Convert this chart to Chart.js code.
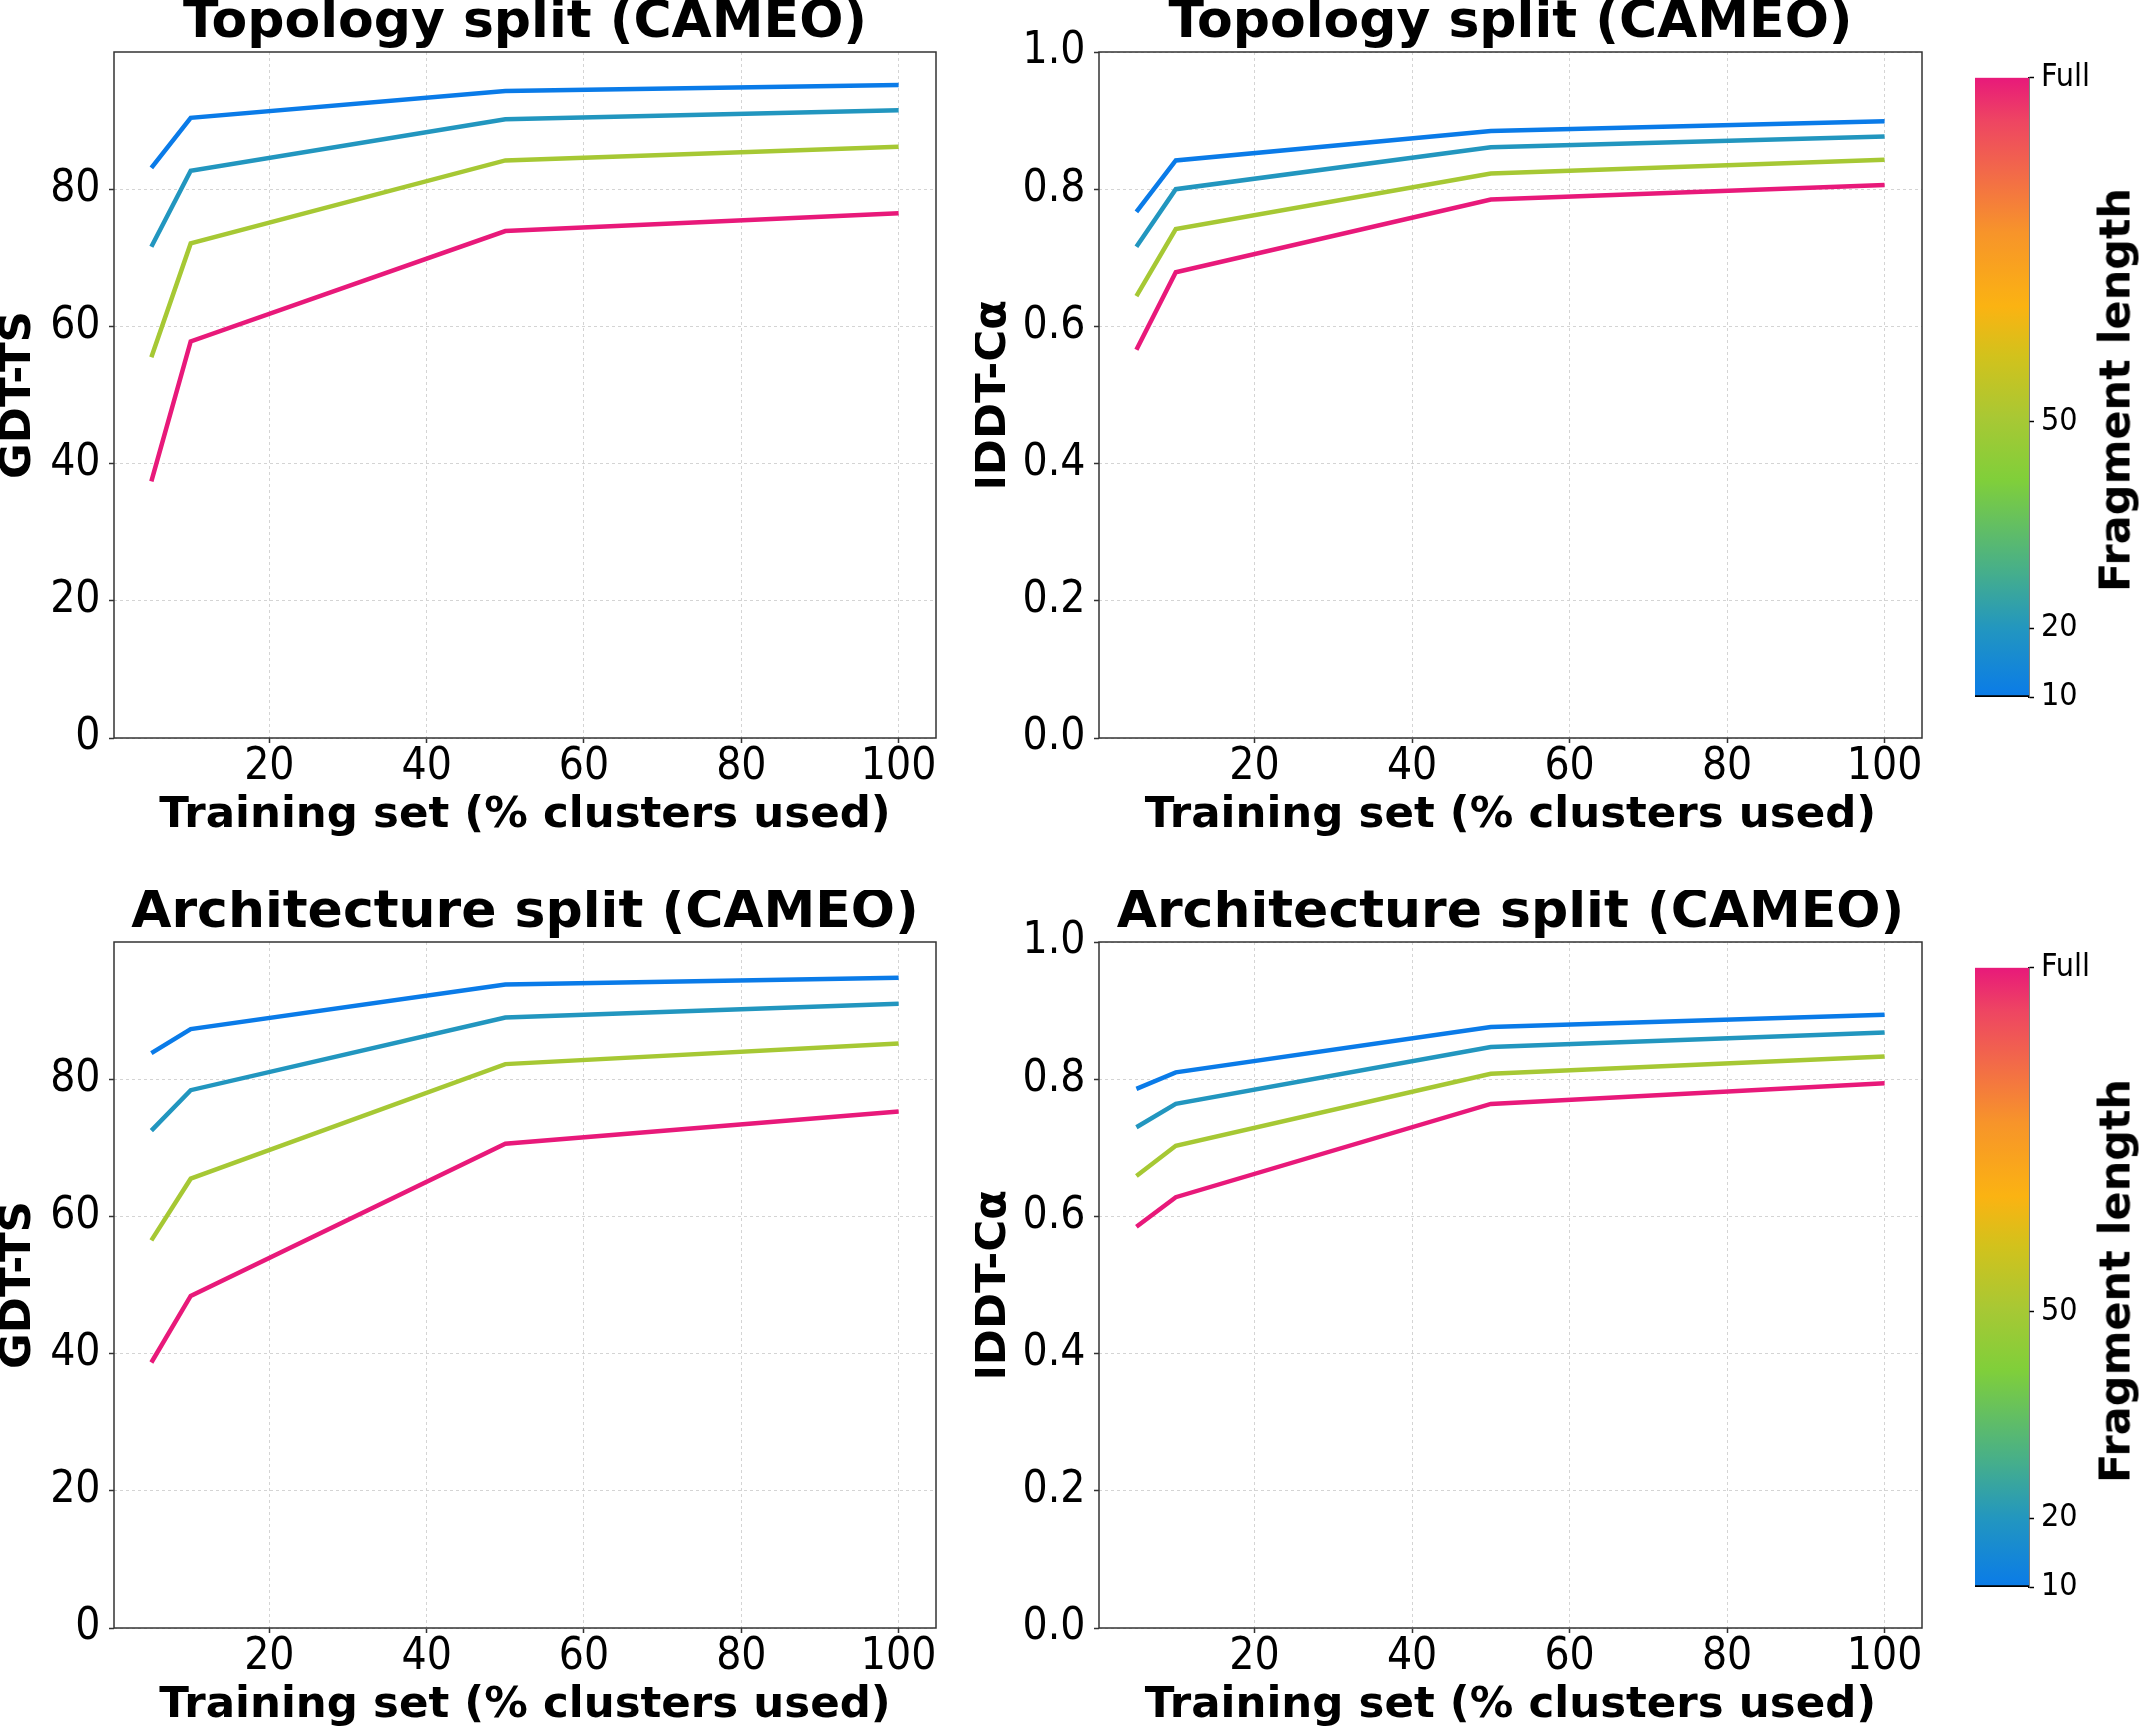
<!DOCTYPE html>
<html><head><meta charset="utf-8">
<script src="https://cdn.jsdelivr.net/npm/chart.js@4.4.1/dist/chart.umd.min.js"></script>
<style>
html,body{margin:0;padding:0;background:#fff;overflow:hidden;width:2143px;height:1730px;}
canvas{position:absolute;}
.cblabel{position:absolute;font-family:"DejaVu Sans",sans-serif;font-weight:bold;font-size:43px;color:#000;white-space:nowrap;line-height:1;transform:translate(-50%,-50%) rotate(-90deg);}
</style></head><body>
<canvas id="c1" width="980" height="840" style="left:0px;top:0px;width:980px;height:840px"></canvas>
<canvas id="c2" width="991" height="840" style="left:975px;top:0px;width:991px;height:840px"></canvas>
<canvas id="c3" width="980" height="840" style="left:0px;top:890px;width:980px;height:840px"></canvas>
<canvas id="c4" width="991" height="840" style="left:975px;top:890px;width:991px;height:840px"></canvas>
<canvas id="cb1" width="177" height="720" style="left:1966px;top:0px;width:177px;height:720px"></canvas>
<canvas id="cb2" width="177" height="720" style="left:1966px;top:890px;width:177px;height:720px"></canvas>
<div class="cblabel" style="left:2115px;top:390px">Fragment length</div>
<div class="cblabel" style="left:2115px;top:1281px">Fragment length</div>
<script>
// ---- data ----
const trainingPct = [5, 10, 50, 100];
const fragmentValues = [10, 20, 50, 100];
const fragmentLabels = ['10', '20', '50', 'Full'];

const topoGdtLen10 = [83.1, 90.4, 94.3, 95.2];
const topoGdtLen20 = [71.6, 82.7, 90.2, 91.5];
const topoGdtLen50 = [55.5, 72.1, 84.2, 86.2];
const topoGdtFull  = [37.4, 57.8, 73.9, 76.5];

const topoLddtLen10 = [0.767, 0.842, 0.885, 0.899];
const topoLddtLen20 = [0.716, 0.800, 0.861, 0.877];
const topoLddtLen50 = [0.644, 0.742, 0.823, 0.843];
const topoLddtFull  = [0.566, 0.679, 0.785, 0.806];

const archGdtLen10 = [83.8, 87.3, 93.8, 94.8];
const archGdtLen20 = [72.5, 78.4, 89.0, 91.0];
const archGdtLen50 = [56.5, 65.5, 82.2, 85.2];
const archGdtFull  = [38.7, 48.4, 70.6, 75.3];

const archLddtLen10 = [0.786, 0.810, 0.876, 0.894];
const archLddtLen20 = [0.730, 0.764, 0.847, 0.868];
const archLddtLen50 = [0.659, 0.703, 0.808, 0.833];
const archLddtFull  = [0.585, 0.628, 0.764, 0.794];

const xTicks = [20, 40, 60, 80, 100];
const gdtTicks = [0, 20, 40, 60, 80];
const lddtTicks = [0, 0.2, 0.4, 0.6, 0.8, 1.0];
const colorbarTicks = [10, 20, 50, 100];
const colorbarTickLabels = ['10', '20', '50', 'Full'];

// ---- style ----
const tickFamily = '"DejaVu Sans Condensed", "DejaVu Sans", sans-serif';
const cmapStops = [
  [0.00, '#0a7be8'], [0.11, '#2296c0'], [0.20, '#45ae8c'], [0.35, '#80cf3a'],
  [0.45, '#a8c834'], [0.55, '#d2c21c'], [0.63, '#fbb312'], [0.75, '#f7942a'],
  [0.85, '#f2684a'], [0.93, '#ee4562'], [1.00, '#e8197a']
];
function hex2rgb(h){return [1,3,5].map(i=>parseInt(h.substr(i,2),16));}
function cmap(t){
  t = Math.max(0, Math.min(1, t));
  for (let i = 1; i < cmapStops.length; i++) {
    if (t <= cmapStops[i][0]) {
      const [t0,c0] = cmapStops[i-1], [t1,c1] = cmapStops[i];
      const f = (t - t0) / (t1 - t0);
      const a = hex2rgb(c0), b = hex2rgb(c1);
      return 'rgb(' + a.map((v,k)=>Math.round(v + (b[k]-v)*f)).join(',') + ')';
    }
  }
  return cmapStops[cmapStops.length-1][1];
}
const fMin = fragmentValues[0], fMax = fragmentValues[fragmentValues.length-1];
const lineColors = fragmentValues.map(v => cmap((v - fMin) / (fMax - fMin)));

Chart.defaults.font.family = '"DejaVu Sans", sans-serif';
Chart.defaults.color = '#000';

const framePlugin = {
  id: 'frame',
  afterDatasetsDraw(chart) {
    const {ctx, chartArea: a} = chart;
    ctx.save();
    ctx.strokeStyle = '#333';
    ctx.lineWidth = 1.5;
    ctx.setLineDash([]);
    ctx.strokeRect(a.left, a.top, a.right - a.left, a.bottom - a.top);
    ctx.restore();
  }
};

function linePanel(id, series, yMax, yTicks, yFmt, yTitle, yAxisW, title) {
  new Chart(document.getElementById(id), {
    type: 'line',
    data: {
      datasets: series.map((vals, i) => ({
        label: fragmentLabels[i],
        data: trainingPct.map((x, j) => ({x: x, y: vals[j]})),
        borderColor: lineColors[i],
        borderWidth: 4.5,
        pointRadius: 0,
        fill: false,
        tension: 0
      }))
    },
    options: {
      responsive: false, devicePixelRatio: 1, animation: false,
      layout: {padding: {left: 0, right: 44, top: 0, bottom: 0}},
      plugins: {
        legend: {display: false}, tooltip: {enabled: false},
        title: {display: true, text: title, fullSize: false, color: '#000',
          font: {size: 52, weight: 'bold', lineHeight: 0.9}, padding: {top: 0, bottom: 5.2}}
      },
      scales: {
        x: {
          type: 'linear', min: 0.25, max: 104.75,
          afterBuildTicks: s => { s.ticks = xTicks.map(v => ({value: v})); },
          afterFit: s => { s.height = 102; },
          ticks: {font: {family: tickFamily, size: 44, lineHeight: 1}, padding: 2.5, color: '#000', maxRotation: 0, autoSkip: false},
          grid: {color: '#d4d4d4', lineWidth: 1, drawTicks: true, tickLength: 5, tickColor: '#333', tickWidth: 1.5, tickBorderDash: []},
          border: {display: false, dash: [3, 3]},
          title: {display: true, text: 'Training set (% clusters used)', color: '#000',
            font: {size: 43.5, weight: 'bold', lineHeight: 1}, padding: {top: 0, bottom: 2.5}}
        },
        y: {
          type: 'linear', min: 0, max: yMax,
          afterBuildTicks: s => { s.ticks = yTicks.map(v => ({value: v})); },
          afterFit: s => { s.width = yAxisW; },
          ticks: {font: {family: tickFamily, size: 44, lineHeight: 1}, padding: 8.5, color: '#000', callback: v => yFmt(v)},
          grid: {color: '#d4d4d4', lineWidth: 1, drawTicks: true, tickLength: 5, tickColor: '#333', tickWidth: 1.5, tickBorderDash: []},
          border: {display: false, dash: [3, 3]},
          title: {display: true, text: yTitle, color: '#000',
            font: {size: 43.5, weight: 'bold', lineHeight: 0.84}, padding: {top: 0, bottom: 0}}
        }
      }
    },
    plugins: [framePlugin]
  });
}

const fmtInt = v => String(Math.round(v));
const fmt1 = v => v.toFixed(1);

linePanel('c1', [topoGdtLen10, topoGdtLen20, topoGdtLen50, topoGdtFull], 100, gdtTicks, fmtInt, 'GDT-TS', 114, 'Topology split (CAMEO)');
linePanel('c2', [topoLddtLen10, topoLddtLen20, topoLddtLen50, topoLddtFull], 1.0, lddtTicks, fmt1, 'lDDT-Cα', 124, 'Topology split (CAMEO)');
linePanel('c3', [archGdtLen10, archGdtLen20, archGdtLen50, archGdtFull], 100, gdtTicks, fmtInt, 'GDT-TS', 114, 'Architecture split (CAMEO)');
linePanel('c4', [archLddtLen10, archLddtLen20, archLddtLen50, archLddtFull], 1.0, lddtTicks, fmt1, 'lDDT-Cα', 124, 'Architecture split (CAMEO)');

function colorbar(id) {
  new Chart(document.getElementById(id), {
    type: 'bar',
    data: {
      labels: [''],
      datasets: [{
        data: [[fMin, fMax]],
        backgroundColor: ctx => {
          const a = ctx.chart.chartArea;
          if (!a) return '#888';
          const g = ctx.chart.ctx.createLinearGradient(0, a.bottom, 0, a.top);
          cmapStops.forEach(([t, c]) => g.addColorStop(t, c));
          return g;
        },
        borderColor: '#000',
        borderWidth: {top: 0, left: 0, right: 0, bottom: 2},
        borderSkipped: false,
        barPercentage: 1, categoryPercentage: 1
      }]
    },
    options: {
      responsive: false, devicePixelRatio: 1, animation: false,
      layout: {padding: {left: 9, right: 0, top: 77.5, bottom: 17}},
      plugins: {legend: {display: false}, tooltip: {enabled: false}},
      scales: {
        x: {display: false},
        y: {
          type: 'linear', position: 'right', min: fMin, max: fMax,
          afterBuildTicks: s => { s.ticks = colorbarTicks.map(v => ({value: v})); },
          afterFit: s => { s.width = 114; },
          ticks: {font: {family: tickFamily, size: 32, lineHeight: 1}, padding: 7, color: '#000',
            callback: (v, i) => colorbarTickLabels[i]},
          grid: {drawOnChartArea: false, drawTicks: true, tickLength: 5, tickColor: '#000', tickWidth: 1.5},
          border: {display: true, color: '#000', width: 1.5}
        }
      }
    }
  });
}
colorbar('cb1');
colorbar('cb2');
</script>
</body></html>
